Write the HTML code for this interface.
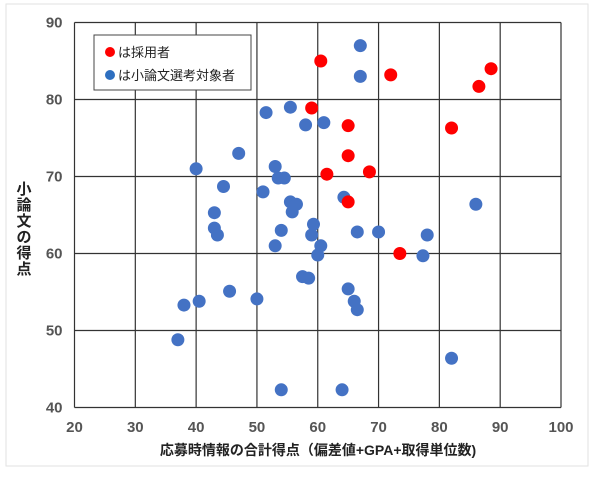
<!DOCTYPE html>
<html><head><meta charset="utf-8"><style>
body{margin:0;background:#fff;width:600px;height:482px;overflow:hidden;font-family:"Liberation Sans","Noto Sans CJK JP",sans-serif}
</style></head><body>
<svg width="600" height="482" xmlns="http://www.w3.org/2000/svg" font-family="Liberation Sans, Noto Sans CJK JP, sans-serif">
<rect x="6" y="4" width="582" height="462" fill="#fff" stroke="#e2e2e2"/>
<g id="grid"></g>
<g id="ticks"></g>
<g id="dots"></g>
<text font-size="15" font-weight="bold" text-anchor="middle" fill="#222">
<tspan x="24" y="194">小</tspan><tspan x="24" y="210">論</tspan><tspan x="24" y="226">文</tspan><tspan x="24" y="242">の</tspan><tspan x="24" y="258">得</tspan><tspan x="24" y="274">点</tspan></text>
<text x="318" y="455" font-size="14" font-weight="bold" text-anchor="middle" fill="#222">応募時情報の合計得点（偏差値+GPA+取得単位数)</text>
<g>
<rect x="94" y="35" width="157" height="55" fill="#fff" stroke="#444"/>
<circle cx="110" cy="52" r="5" fill="#ff0000"/>
<text x="118" y="57" font-size="13" fill="#222">は採用者</text>
<circle cx="110" cy="75" r="5" fill="#2e6fc0"/>
<text x="118" y="80" font-size="13" fill="#222">は小論文選考対象者</text>
</g>
</svg>
<script>
const xTicks=[20,30,40,50,60,70,80,90,100];
const yTicks=[40,50,60,70,80,90];
const blueX=[67,67,55.5,51.5,58,61,47,40,53,53.5,54.5,44.5,51,55.5,56.5,55.8,43,43,43.5,54,59.3,59,53,60.5,60,64.3,66.5,70,78,77.3,57.5,58.5,45.5,38,40.5,50,65,66,66.5,37,54,64,82,86];
const blueY=[87,83,79,78.3,76.7,77,73,71,71.3,69.8,69.8,68.7,68,66.7,66.4,65.4,65.3,63.3,62.4,63,63.8,62.4,61,61,59.8,67.3,62.8,62.8,62.4,59.7,57,56.8,55.1,53.3,53.8,54.1,55.4,53.8,52.7,48.8,42.3,42.3,46.4,66.4];
const redX=[60.5,72,88.5,86.5,59,65,82,65,61.5,68.5,65,73.5];
const redY=[85,83.2,84,81.7,78.9,76.6,76.3,72.7,70.3,70.6,66.7,60];
const L=74.5,R=561,T=22.5,B=407.5;
const sx=v=>L+(v-20)/80*(R-L), sy=v=>B-(v-40)/50*(B-T);
const NS="http://www.w3.org/2000/svg";
function mk(t,a,p){const e=document.createElementNS(NS,t);for(const k in a)e.setAttribute(k,a[k]);p.appendChild(e);return e;}
const g=document.getElementById('grid'),tk=document.getElementById('ticks'),d=document.getElementById('dots');
xTicks.forEach(v=>{const l=mk('line',{x1:sx(v),x2:sx(v),y1:T,y2:B,stroke:'#333','stroke-width':1.2},g);


const t=mk('text',{x:sx(v),y:432,'font-size':15,'font-weight':'bold','text-anchor':'middle',fill:'#555'},tk);t.textContent=v;

});
yTicks.forEach(v=>{const l=mk('line',{x1:L,x2:R,y1:sy(v),y2:sy(v),stroke:'#333','stroke-width':1.2},g);


const t=mk('text',{x:L-12,y:sy(v)+5,'font-size':15,'font-weight':'bold','text-anchor':'end',fill:'#555'},tk);t.textContent=v;

});
blueX.forEach((x,i)=>{const c=mk('circle',{cx:sx(x),cy:sy(blueY[i]),r:6.5,fill:'#4472c4'},d);

});
redX.forEach((x,i)=>{const c=mk('circle',{cx:sx(x),cy:sy(redY[i]),r:6.5,fill:'#ff0000'},d);

});
</script>
</body></html>
